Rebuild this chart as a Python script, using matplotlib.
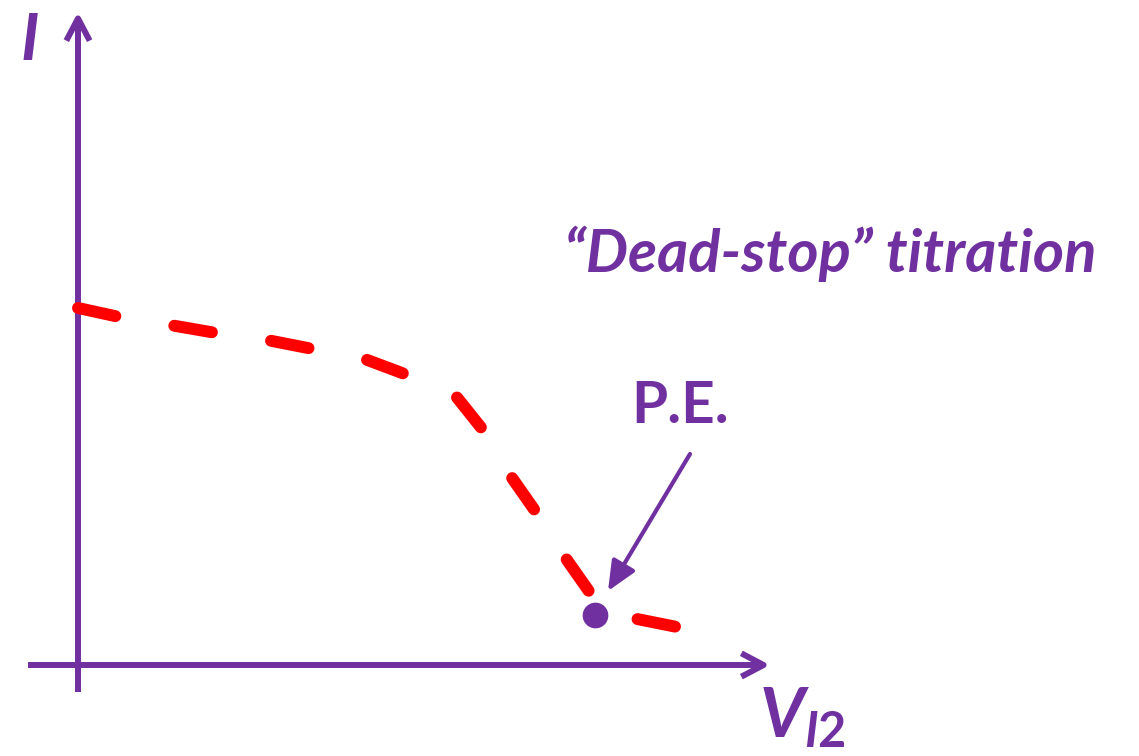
import matplotlib
matplotlib.use("Agg")
import matplotlib.pyplot as plt
from matplotlib.patches import FancyArrowPatch

PURPLE = "#7030A0"
RED = "#FF0000"

# titration curve (arbitrary units, origin at the axes crossing)
vol = [0.00, 0.46, 0.92, 1.44, 1.89, 2.40, 2.84, 3.32, 3.77, 4.09,
       4.32, 4.60, 4.89, 5.15, 5.30, 5.54, 6.04]
cur = [3.57, 3.47, 3.40, 3.31, 3.25, 3.15, 3.07, 2.89, 2.70, 2.30,
       1.90, 1.50, 1.05, 0.68, 0.52, 0.47, 0.37]

pe_point = (5.17, 0.50)
pe_label = "P.E."
title = "\u201cDead-stop\u201d titration"
ylabel = "I"
xlabel = r"$\mathit{V}_{\mathit{I2}}$"

FONT = ["Lato", "DejaVu Sans"]
plt.rcParams["mathtext.fontset"] = "custom"
plt.rcParams["mathtext.it"] = "Lato:italic:bold"
plt.rcParams["mathtext.rm"] = "Lato:bold"

fig = plt.figure(figsize=(11.39, 7.56), dpi=100)
ax = fig.add_axes([0, 0, 1, 1])
ax.set_xlim(-0.78, 10.61)
ax.set_ylim(-0.91, 6.65)
ax.axis("off")

# axes drawn as arrows
for start, end in [((0, -0.27), (0, 6.53)), ((-0.50, 0), (6.92, 0))]:
    arr = FancyArrowPatch(start, end, arrowstyle="->,head_length=0.8,head_width=0.42",
                          mutation_scale=20, color=PURPLE, lw=4.3,
                          capstyle="butt", joinstyle="round", shrinkA=0, shrinkB=0)
    ax.add_patch(arr)

# dashed curve
ax.plot(vol, cur, color=RED, lw=8.6, linestyle=(0, (3.2, 5.0)),
        dash_capstyle="round", solid_joinstyle="round")

# P.E. point and pointer
ax.plot([pe_point[0]], [pe_point[1]], "o", ms=18.5, color=PURPLE, mec="none")
ax.annotate("", xy=(5.30, 0.74), xytext=(6.12, 2.11),
            arrowprops=dict(arrowstyle="-|>,head_length=0.9,head_width=0.4",
                            mutation_scale=20, color=PURPLE, lw=3.0,
                            shrinkA=0, shrinkB=0))

# labels
ax.text(6.02, 2.42, pe_label, color=PURPLE, fontsize=42, fontweight="bold",
        family=FONT, ha="center", va="baseline")
ax.text(7.52, 3.93, title, color=PURPLE, fontsize=43, fontweight="bold",
        style="italic", family=FONT, ha="center", va="baseline")
ax.text(-0.48, 6.05, ylabel, color=PURPLE, fontsize=47, fontweight="bold",
        style="italic", family=FONT, ha="center", va="baseline")
ax.text(6.81, -0.73, xlabel, color=PURPLE, fontsize=50,
        ha="left", va="baseline")

fig.savefig("out.png", dpi=100)
